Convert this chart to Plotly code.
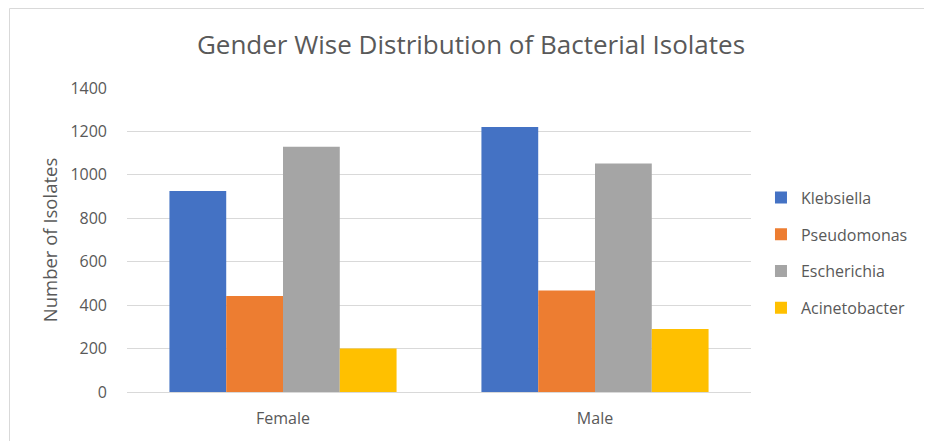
import plotly.graph_objects as go

categories = ["Female", "Male"]
series_names = ["Klebsiella", "Pseudomonas", "Escherichia", "Acinetobacter"]
klebsiella = [926, 1220]
pseudomonas = [442, 467]
escherichia = [1130, 1052]
acinetobacter = [200, 290]
colors = ["#4472C4", "#ED7D31", "#A5A5A5", "#FFC000"]
y_ticks = [0, 200, 400, 600, 800, 1000, 1200, 1400]

series_values = [klebsiella, pseudomonas, escherichia, acinetobacter]

fig = go.Figure()
for name, vals, col in zip(series_names, series_values, colors):
    fig.add_trace(go.Bar(
        x=categories, y=vals, name=name, legendgroup=name,
        marker=dict(color=col, line=dict(width=0)),
    ))

FONT = "Open Sans"
W, H = 932, 441
L, T, B = 119, 80, 57
PW = 624
PH = H - T - B
fig.update_layout(
    width=W, height=H,
    margin=dict(l=L, r=W - L - PW, t=T, b=B),
    paper_bgcolor="white", plot_bgcolor="white",
    barmode="group", bargap=0.272, bargroupgap=0,
    font=dict(family=FONT, color="#595959", size=16),
    title=dict(text="Gender Wise Distribution of Bacterial Isolates",
               x=463 / W, xref="container", xanchor="center",
               y=1 - 37 / H, yref="container", yanchor="middle",
               font=dict(family=FONT, size=26, color="#595959")),
    legend=dict(x=1.016, xanchor="left", y=0.457, yanchor="middle",
                font=dict(family=FONT, size=16, color="#595959"),
                tracegroupgap=13, traceorder="grouped",
                bgcolor="rgba(0,0,0,0)"),
    showlegend=True,
)
fig.update_xaxes(showgrid=False, showline=False, ticks="",
                 tickfont=dict(size=16, color="#595959"), ticklabelstandoff=15)
fig.update_yaxes(range=[0, 1400], tickvals=y_ticks, showgrid=True,
                 gridcolor="#D9D9D9", gridwidth=1, zeroline=True,
                 zerolinecolor="#D9D9D9", zerolinewidth=1, showline=False,
                 ticks="", ticklabelstandoff=19,
                 tickfont=dict(size=16, color="#595959"),
                 title=dict(text="Number of Isolates", standoff=7,
                            font=dict(size=18.5, color="#595959")))
# partial frame (top and left edges) of the chart area
top_y = (PH + T - 0.5) / PH
left_x = (1.5 - L) / PW
fig.add_shape(type="line", xref="paper", yref="paper",
              x0=left_x, x1=(W - L) / PW, y0=top_y, y1=top_y,
              line=dict(color="#D9D9D9", width=1))
fig.add_shape(type="line", xref="paper", yref="paper",
              x0=left_x, x1=left_x, y0=top_y, y1=-B / PH,
              line=dict(color="#D9D9D9", width=1))

fig.write_html("out.html")
